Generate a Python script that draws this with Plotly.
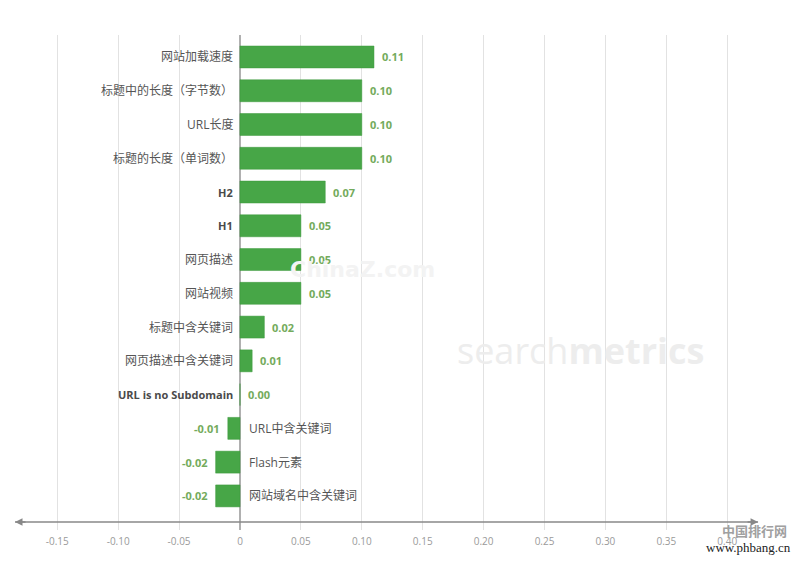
import plotly.graph_objects as go

categories = ["网站加载速度", "标题中的长度（字节数）", "URL长度", "标题的长度（单词数）", "H2", "H1",
              "网页描述", "网站视频", "标题中含关键词", "网页描述中含关键词", "URL is no Subdomain",
              "URL中含关键词", "Flash元素", "网站域名中含关键词"]
values = [0.11, 0.10, 0.10, 0.10, 0.07, 0.05, 0.05, 0.05, 0.02, 0.01, 0.00, -0.01, -0.02, -0.02]
bold_labels = ["H2", "H1", "URL is no Subdomain"]
tick_vals = [-0.15, -0.10, -0.05, 0, 0.05, 0.10, 0.15, 0.20, 0.25, 0.30, 0.35, 0.40]
tick_text = ["-0.15", "-0.10", "-0.05", "0", "0.05", "0.10", "0.15", "0.20", "0.25", "0.30", "0.35", "0.40"]

FONT = "Open Sans, Noto Sans CJK SC, sans-serif"
BAR = "#47a647"
VAL = "#74ab5c"
AX_LO, AX_HI, AX_Y = -0.1847, 0.4253, 0.0162

fig = go.Figure(go.Bar(
    y=categories, x=values, orientation="h",
    marker=dict(color=BAR, line=dict(color="#3d993d", width=0.5)),
    hoverinfo="skip",
))

ann = []
for c, v in zip(categories, values):
    bold = c in bold_labels
    txt = f"<b>{c}</b>" if bold else c
    col = "#4a4a4a" if bold else "#555"
    fs = 11 if bold else 12
    if v >= 0:
        ann.append(dict(x=0, y=c, xref="x", yref="y", text=txt, showarrow=False,
                        xanchor="right", xshift=-5, font=dict(size=fs, color=col, family=FONT)))
        ann.append(dict(x=v, y=c, xref="x", yref="y", text=f"<b>{v:.2f}</b>", showarrow=False,
                        xanchor="left", xshift=6, font=dict(size=11, color=VAL, family=FONT)))
    else:
        ann.append(dict(x=0, y=c, xref="x", yref="y", text=txt, showarrow=False,
                        xanchor="left", xshift=7, font=dict(size=fs, color=col, family=FONT)))
        ann.append(dict(x=v, y=c, xref="x", yref="y", text=f"<b>{v:.2f}</b>", showarrow=False,
                        xanchor="right", xshift=-6, font=dict(size=11, color=VAL, family=FONT)))

# arrow heads at both ends of the axis line
ann.append(dict(x=AX_HI, y=AX_Y, xref="x", yref="paper", ax=-12, ay=0, text="", showarrow=True,
                arrowhead=2, arrowsize=1, arrowwidth=1.5, arrowcolor="#888"))
ann.append(dict(x=AX_LO, y=AX_Y, xref="x", yref="paper", ax=12, ay=0, text="", showarrow=True,
                arrowhead=2, arrowsize=1, arrowwidth=1.5, arrowcolor="#888"))

# watermarks
ann.append(dict(x=0.039, y=6.3, xref="x", yref="y", text="<b>ChinaZ.com</b>", showarrow=False,
                xanchor="left", font=dict(size=22, color="#f3f3f3", family="DejaVu Sans")))
ann.append(dict(x=0.1765, y=8.68, xref="x", yref="y",
                text="search<b>metrics</b>", showarrow=False, xanchor="left",
                font=dict(size=36, color="#ededed", family="Open Sans")))
ann.append(dict(x=1.03, y=-0.024, xref="paper", yref="paper", text="<b>中国排行网</b>", showarrow=False,
                xanchor="right", xshift=-4, font=dict(size=13, color="#a0a0a0", family="Noto Sans CJK SC")))
ann.append(dict(x=1.03, y=-0.054, xref="paper", yref="paper", text="www.phbang.cn", showarrow=False,
                xanchor="right", font=dict(size=13, color="#222", family="Liberation Serif")))

fig.update_layout(
    width=792, height=553,
    margin=dict(l=7, r=30, t=27, b=31),
    paper_bgcolor="white", plot_bgcolor="white",
    showlegend=False, bargap=0.35,
    annotations=ann,
    shapes=[dict(type="line", xref="x", yref="paper", x0=AX_LO, x1=AX_HI, y0=AX_Y, y1=AX_Y,
                 line=dict(color="#888", width=1.5))],
    xaxis=dict(range=[-0.1847, 0.4351], tickvals=tick_vals, ticktext=tick_text,
               showgrid=True, gridcolor="#e2e2e2", gridwidth=1,
               zeroline=True, zerolinecolor="#b0b0b0", zerolinewidth=1.5,
               showline=False, ticks="", ticklabelstandoff=4,
               tickfont=dict(size=10, color="#9a9a9a", family=FONT)),
    yaxis=dict(type="category", range=[14.01, -0.651], showticklabels=False,
               showgrid=False, zeroline=False, showline=False, ticks=""),
)

fig.write_html("out.html")
